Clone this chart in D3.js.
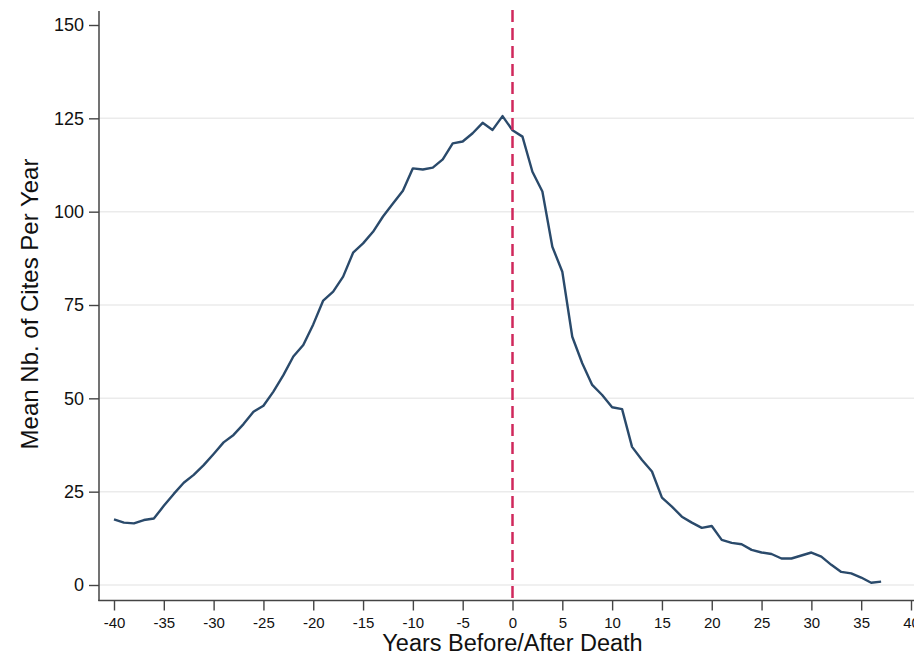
<!DOCTYPE html>
<html>
<head>
<meta charset="utf-8">
<script src="https://cdn.jsdelivr.net/npm/d3@7"></script>
<style>
  body { margin: 0; background: #fff; }
  svg { display: block; font-family: "Liberation Sans", Arial, Helvetica, sans-serif; }
</style>
</head>
<body>
<svg id="chart" width="914" height="658"></svg>
<script>
// years relative to death
var years = [-40, -39, -38, -37, -36, -35, -34, -33, -32, -31,
             -30, -29, -28, -27, -26, -25, -24, -23, -22, -21,
             -20, -19, -18, -17, -16, -15, -14, -13, -12, -11,
             -10, -9, -8, -7, -6, -5, -4, -3, -2, -1,
             0, 1, 2, 3, 4, 5, 6, 7, 8, 9,
             10, 11, 12, 13, 14, 15, 16, 17, 18, 19,
             20, 21, 22, 23, 24, 25, 26, 27, 28, 29,
             30, 31, 32, 33, 34, 35, 36, 37];

// mean nb. of cites per year
var cites = [17.6, 16.7, 16.5, 17.4, 17.8, 21.2, 24.4, 27.4, 29.5, 32.1,
             35.1, 38.2, 40.2, 43.1, 46.4, 48.0, 51.8, 56.2, 61.2, 64.3,
             69.8, 76.2, 78.6, 82.6, 89.0, 91.5, 94.6, 98.7, 102.2, 105.6,
             111.6, 111.3, 111.8, 114.0, 118.3, 118.8, 121.0, 123.8, 121.9, 125.6,
             121.8, 120.1, 110.7, 105.4, 90.6, 83.9, 66.5, 59.4, 53.6, 50.9,
             47.6, 47.1, 37.0, 33.5, 30.4, 23.4, 21.0, 18.3, 16.7, 15.3,
             15.8, 12.1, 11.3, 10.9, 9.4, 8.7, 8.3, 7.1, 7.1, 7.9,
             8.7, 7.6, 5.4, 3.5, 3.1, 2.0, 0.6, 0.9];

var xTicks = [-40, -35, -30, -25, -20, -15, -10, -5, 0, 5, 10, 15, 20, 25, 30, 35, 40];
var yTicks = [0, 25, 50, 75, 100, 125, 150];
var gridTicks = [0, 25, 50, 75, 100, 125];
var deathYear = 0;

var xTitle = "Years Before/After Death";
var yTitle = "Mean Nb. of Cites Per Year";

var width = 914, height = 658;
// plot region (axis lines sit on its left and bottom edges)
var plot = {left: 99, right: 914, top: 11, bottom: 601};

var data = years.map(function (y, i) { return {year: y, cites: cites[i]}; });

var xScale = d3.scaleLinear()
    .domain([-40, 40])
    .range([plot.left + 15, plot.right - 3]);

var yScale = d3.scaleLinear()
    .domain([0, 150])
    .range([plot.bottom - 16, plot.top + 14]);

// plain hyphen for negatives, like the original
var tickFmt = function (d) { return String(d); };

var svg = d3.select("#chart");

// Grid lines
svg.append("g")
    .attr("class", "grid")
    .selectAll("line")
    .data(gridTicks)
    .enter()
    .append("line")
    .attr("x1", plot.left)
    .attr("x2", plot.right)
    .attr("y1", function (d) { return yScale(d); })
    .attr("y2", function (d) { return yScale(d); })
    .attr("stroke", "#ebebeb")
    .attr("stroke-width", 1.5);

// Y Axis
var yAxis = d3.axisLeft(yScale)
    .tickValues(yTicks)
    .tickFormat(tickFmt)
    .tickSize(10)
    .tickPadding(5);

var gy = svg.append("g")
    .attr("class", "y axis")
    .attr("transform", "translate(" + plot.left + ",0)")
    .call(yAxis);
gy.select(".domain").remove();
gy.selectAll(".tick line").attr("stroke", "#444").attr("stroke-width", 1.4);
gy.selectAll(".tick text")
    .attr("font-size", 18)
    .attr("fill", "#111")
    .style("font-family", "'Liberation Sans', Arial, sans-serif");

// X Axis
var xAxis = d3.axisBottom(xScale)
    .tickValues(xTicks)
    .tickFormat(tickFmt)
    .tickSize(10)
    .tickPadding(7);

var gx = svg.append("g")
    .attr("class", "x axis")
    .attr("transform", "translate(0," + (plot.bottom - 0.5) + ")")
    .call(xAxis);
gx.select(".domain").remove();
gx.selectAll(".tick line").attr("stroke", "#444").attr("stroke-width", 1.4);
gx.selectAll(".tick text")
    .attr("font-size", 15)
    .attr("fill", "#111")
    .style("font-family", "'Liberation Sans', Arial, sans-serif");

// axis lines
svg.append("line")
    .attr("x1", plot.left).attr("x2", plot.left)
    .attr("y1", plot.top).attr("y2", plot.bottom)
    .attr("stroke", "#444").attr("stroke-width", 1.5);
svg.append("line")
    .attr("x1", plot.left - 0.7).attr("x2", plot.right)
    .attr("y1", plot.bottom - 0.5).attr("y2", plot.bottom - 0.5)
    .attr("stroke", "#444").attr("stroke-width", 1.5);

// Line
var line = d3.line()
    .x(function (d) { return xScale(d.year); })
    .y(function (d) { return yScale(d.cites); });

svg.append("path")
    .attr("d", line(data))
    .attr("fill", "none")
    .attr("stroke", "#2a4a6b")
    .attr("stroke-width", 2.4)
    .attr("stroke-linejoin", "round");

// dashed line at death
svg.append("line")
    .attr("x1", xScale(deathYear)).attr("x2", xScale(deathYear))
    .attr("y1", plot.top - 1).attr("y2", plot.bottom - 1)
    .attr("stroke", "#d0285c")
    .attr("stroke-width", 2.5)
    .attr("stroke-dasharray", "12,6");

// Titles
svg.append("text")
    .attr("x", xScale(deathYear))
    .attr("y", 651)
    .attr("text-anchor", "middle")
    .attr("font-size", 23.5)
    .attr("fill", "#111")
    .text(xTitle);

svg.append("text")
    .attr("transform", "translate(38," + 304 + ") rotate(-90)")
    .attr("text-anchor", "middle")
    .attr("font-size", 24)
    .attr("fill", "#111")
    .text(yTitle);
</script>
</body>
</html>
